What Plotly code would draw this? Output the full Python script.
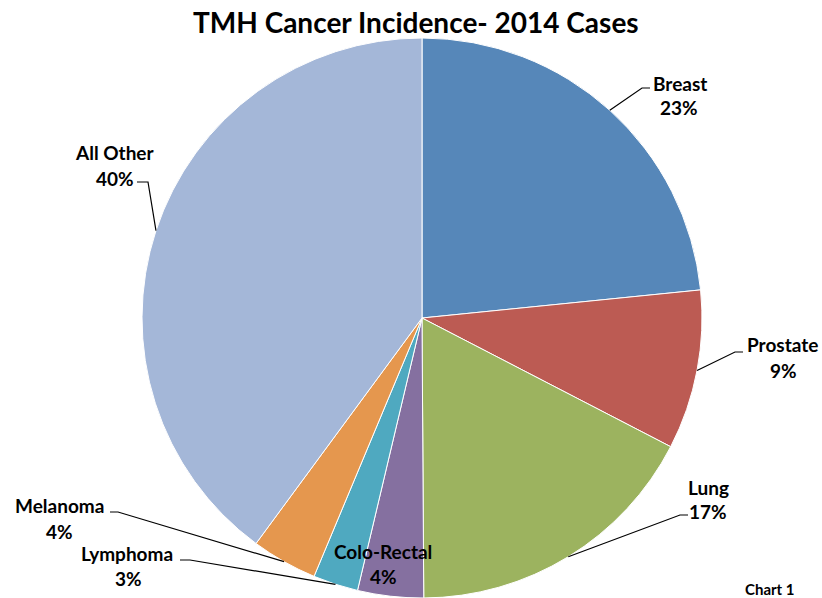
import math
import plotly.graph_objects as go

# ---- data ----
categories = ["Breast", "Prostate", "Lung", "Colo-Rectal", "Lymphoma", "Melanoma", "All Other"]
values = [23.4, 9.2, 17.3, 3.8, 2.6, 3.8, 39.9]
colors = ["#5687B9", "#BC5B53", "#9CB35F", "#8570A0", "#4FA9C0", "#E5974E", "#A4B7D8"]
title_text = "TMH Cancer Incidence- 2014 Cases"
footnote = "Chart 1"

# ---- layout helpers (pixels) ----
W, H = 822, 598
cx, cy, R = 422, 318, 280
FONT = "Lato"
LBL = 19

# label placement (center of name line, center of pct line) and leader elbow
label_pos = {
    "Breast":      ((680, 83), (679, 107), (650, 88), (642, 88)),
    "Prostate":    ((782, 345), (783, 370), (743, 352), (735, 352)),
    "Lung":        ((708, 487), (708, 511), (688, 515), (680, 515)),
    "Colo-Rectal": ((383, 551), (383, 576), None, None),
    "Lymphoma":    ((127, 553), (128, 578), (180, 560), (190, 560)),
    "Melanoma":    ((60, 505), (60, 531), (110, 512), (118, 512)),
    "All Other":   ((115, 152), (115, 178), (137, 182), (148, 182)),
}

def px(x):
    return x / W

def py(y):
    return 1 - y / H

fig = go.Figure(go.Pie(
    labels=categories,
    values=values,
    sort=False,
    direction="clockwise",
    rotation=0,
    textinfo="none",
    hoverinfo="label+percent",
    marker=dict(colors=colors, line=dict(color="white", width=1)),
    domain=dict(x=[px(cx - R), px(cx + R)], y=[py(cy + R), py(cy - R)]),
    showlegend=False,
))

total = sum(values)
annotations = []
shapes = []
cum = 0.0
for cat, v in zip(categories, values):
    mid = (cum + v / 2) / total * 2 * math.pi
    cum += v
    ex = cx + R * math.sin(mid)
    ey = cy - R * math.cos(mid)
    (nx, ny), (qx, qy), e1, e2 = label_pos[cat]
    pct = f"{round(v / total * 100)}%"
    for (tx, ty), t in (((nx, ny), cat), ((qx, qy), pct)):
        annotations.append(dict(
            x=px(tx), y=py(ty), xref="paper", yref="paper",
            text=t, showarrow=False, xanchor="center", yanchor="middle",
            font=dict(family=FONT, size=LBL, color="black", weight="bold"),
        ))
    if e1 is not None:
        path = f"M {px(e1[0])} {py(e1[1])} L {px(e2[0])} {py(e2[1])} L {px(ex)} {py(ey)}"
        shapes.append(dict(type="path", xref="paper", yref="paper", path=path,
                           line=dict(color="black", width=1.2)))

annotations.append(dict(
    x=px(416), y=py(22), xref="paper", yref="paper", text=title_text,
    showarrow=False, xanchor="center", yanchor="middle",
    font=dict(family=FONT, size=28, color="black", weight="bold"),
))
annotations.append(dict(
    x=px(770), y=py(589), xref="paper", yref="paper", text=footnote,
    showarrow=False, xanchor="center", yanchor="middle",
    font=dict(family=FONT, size=15, color="black", weight="bold"),
))

fig.update_layout(
    width=W, height=H,
    margin=dict(l=0, r=0, t=0, b=0),
    paper_bgcolor="white", plot_bgcolor="white",
    annotations=annotations, shapes=shapes,
)

fig.write_html("out.html", config={"displayModeBar": False},
               post_script="document.body.style.margin='0px';document.body.style.overflow='hidden';")
